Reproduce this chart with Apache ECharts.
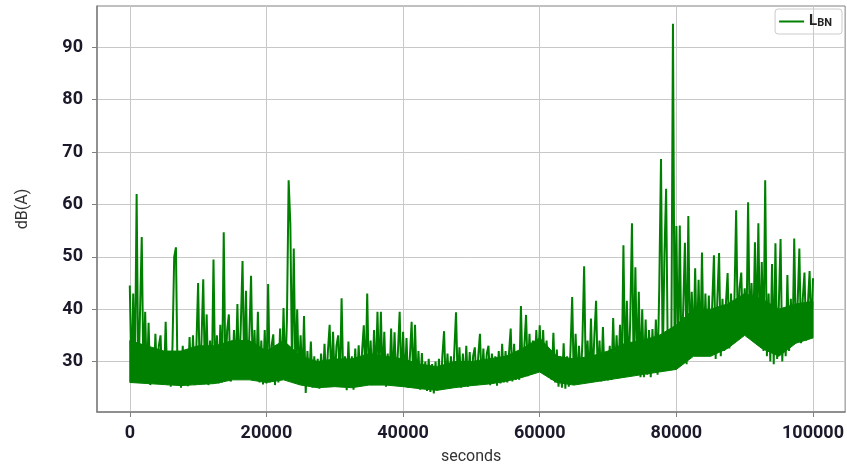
<!DOCTYPE html>
<html>
<head>
<meta charset="utf-8">
<script src="https://cdn.jsdelivr.net/npm/echarts@6/dist/echarts.min.js"></script>
<style>
html,body{margin:0;padding:0;background:#fff;}
#c{width:847px;height:470px;}
</style>
</head>
<body>
<div id="c"></div>
<script>
// sampling interval of the level record (seconds)
const sampleStep = 250;
// LBN levels in dB(A), one value per 250 s
const levels0to25k = [
  44.5,26,43,27,62,26,39.5,53.8,27,39.5,26,37.4,25.5,32,26,35.3,25.8,33,35,25.6,
  26,37.6,25.5,31,25.2,33,50,51.8,26,31.5,25,33,25.6,31,25.3,34.7,26,35,25.5,33,
  45,26,34,45.7,26.5,39,25.5,34,26,49.5,26.5,35,25.8,37,26,54.7,27,36,39,26.2,
  27,36,27.5,41,27,37,49.2,27.5,43.5,27,35,46.4,27.2,36,26.5,39.5,26,34,25.6,36,
  25.8,44.8,26,33,35.2,25.5,33,26,36.3,26.5,40.2,27,38,64.6,56.2,28,51.6,27,40,26.5
];
const levels25to50k = [
  35,26,38.7,24,32,25.5,33.8,25,31,25.2,30.5,24.8,31.5,25.4,33.4,25.5,32,37,26,35.7,
  26,33,35,25.5,42.1,26,31,24.5,33.8,25,31,24.6,32.5,25.2,33.1,25.5,32,36.9,26,43,
  26,34,25.5,36,26.5,39.5,27,39.5,26,35.7,25.2,31.5,25.5,36.3,25.8,35.6,26,32,39.5,25.5,
  35.7,25.5,34.5,25,31,37.6,25.5,37,25,32,24.6,31.6,24.8,30,24.4,30.5,24.2,29.5,23.9,30,
  24.5,30.5,24.6,31,35.8,25,31.5,24.8,31,25.2,32,39.4,25.4,32.7,25,31.5,25.5,33,25.2,31.8
];
const levels50to75k = [
  25.4,31,32.7,25.5,31,35.3,25.6,32.5,25.8,31.5,33,25.5,31.5,25.8,31,25.4,32,25.8,33.4,26,
  32,26,31.5,36.3,26.2,33.4,26.5,32,26.5,40.6,27,33,38.9,27.2,35.3,27.5,34,28,36,28.5,
  36.9,28,36,27.5,34,27,32,26.5,35.5,26,32.3,25.2,31,25,33.5,24.8,31,25.2,32,42.3,
  25.5,35.3,25.8,33,26,34,48.2,26.5,34,26,38.2,26.5,35,41.6,26.5,34,26.2,36.6,26.5,31.6,
  26.4,33,26.5,38.3,27,35,26.8,37,27,52.2,28,41.6,27.5,38,56.4,28,48,27.5,43.3,27
];
const levels75to100k = [
  40,27,38,27.5,36,27,36.2,28,38,27.5,44.5,68.7,29,50.2,63,30,33.8,29,94.5,31,
  55.9,29,56,30,40,52.7,29.5,57.8,31,43.3,32.5,47.8,32,45.6,31.5,50.8,31,43,31.5,42.6,
  31,41,50.3,30.5,42,50.7,31,42,32,41,46.9,32.5,43,33.5,42,58.9,35,44,47,35,
  44,35.5,60.4,35,45,34.5,52.8,35,56.4,33,49,32,64.6,31,43,30,48.6,29.5,52.6,30.5,
  41,53.4,30,40,31,46.5,32,42,33.5,53.5,34,41,51.6,33.5,42,47,34,41,47.3,35,45.9
];
// dense core of the trace (solid green band), read every 2500 s
const bandStep = 2500;
const bandLow = [
  26,25.8,25.6,25.4,25.6,25.8,26.5,26.5,26,26.5,
  25.5,25,25.2,25,25.5,25.5,25.2,24.8,24.5,25,
  25.4,25.7,26.2,27,28,26,25.5,26,26.5,27,
  27.5,28,28.5,31,31,32.5,35,32.5,31,33.5,34.5
];
const bandHigh = [
  34,33,32,32,33,33,34,34,32,34,
  31,30,30.5,30.5,31.5,31,30.5,29.5,29,30,
  30,30.5,31,32.5,34.5,31,30.5,31,32,33.5,
  34,35,37,40,40,41,43,42,40,41,41.5
];
const xTicks = [0, 20000, 40000, 60000, 80000, 100000];
const yTicks = [30, 40, 50, 60, 70, 80, 90];
const seriesName = 'LBN';

const levels = levels0to25k.concat(levels25to50k, levels50to75k, levels75to100k);
const data = levels.map((v, i) => [i * sampleStep, v]);

const chart = echarts.init(document.getElementById('c'), null, {renderer: 'canvas'});
const tickFont = {fontFamily: 'Roboto', fontWeight: 'bold', fontSize: 18, color: '#1a1a2a'};
chart.setOption({
  animation: false,
  backgroundColor: '#ffffff',
  color: ['#008000'],
  grid: {left: 97, right: 0, top: 6, bottom: 57, show: true, borderColor: '#808080', borderWidth: 1},
  legend: {
    right: 5, top: 9,
    borderColor: '#cccccc', borderWidth: 1, borderRadius: 3,
    padding: [5, 10, 5, 4],
    icon: 'rect',
    itemWidth: 25, itemHeight: 2, itemGap: 5,
    data: [seriesName],
    formatter: () => '{a|L}{b|BN}',
    textStyle: {
      rich: {
        a: {fontFamily: 'Roboto', fontWeight: 'bold', fontSize: 15, color: '#222', verticalAlign: 'bottom'},
        b: {fontFamily: 'Roboto', fontWeight: 'bold', fontSize: 11, color: '#222', verticalAlign: 'bottom'}
      }
    }
  },
  xAxis: {
    type: 'value', min: -4800, max: 104700,
    minInterval: 20000, maxInterval: 20000,
    name: 'seconds', nameLocation: 'middle', nameGap: 37,
    nameTextStyle: {fontFamily: 'Roboto', fontSize: 16, color: '#333'},
    axisLine: {show: true, onZero: false, lineStyle: {color: '#808080', width: 1.5}},
    axisTick: {show: true, length: 5, customValues: xTicks, lineStyle: {color: '#808080'}},
    axisLabel: Object.assign({margin: 12, customValues: xTicks, formatter: (v) => String(v)}, tickFont),
    splitLine: {show: true, lineStyle: {color: '#c8c8c8', width: 1}}
  },
  yAxis: {
    type: 'value', min: 20.36, max: 97.9,
    minInterval: 10, maxInterval: 10,
    name: 'dB(A)', nameLocation: 'middle', nameGap: 66,
    nameTextStyle: {fontFamily: 'Roboto', fontSize: 16, color: '#333'},
    axisLine: {show: true, onZero: false, lineStyle: {color: '#808080', width: 1.5}},
    axisTick: {show: true, length: 5, customValues: yTicks, lineStyle: {color: '#808080'}},
    axisLabel: Object.assign({margin: 14, customValues: yTicks, formatter: (v) => String(v)}, tickFont),
    splitLine: {show: true, lineStyle: {color: '#c8c8c8', width: 1}}
  },
  series: [
    {
      name: 'bandCore',
      type: 'custom',
      silent: true,
      data: [[0, bandLow[0]]],
      encode: {x: 0, y: 1},
      z: 1,
      renderItem: (params, api) => {
        const top = bandHigh.map((v, i) => api.coord([i * bandStep, v]));
        const bottom = bandLow.map((v, i) => api.coord([i * bandStep, v])).reverse();
        return {
          type: 'polygon',
          shape: {points: top.concat(bottom)},
          style: {fill: '#008000', stroke: '#008000', lineWidth: 1}
        };
      }
    },
    {
      name: seriesName,
      type: 'line',
      data: data,
      symbol: 'none',
      sampling: null,
      lineStyle: {color: '#008000', width: 2},
      itemStyle: {color: '#008000'},
      z: 2
    }
  ]
});
</script>
</body>
</html>
